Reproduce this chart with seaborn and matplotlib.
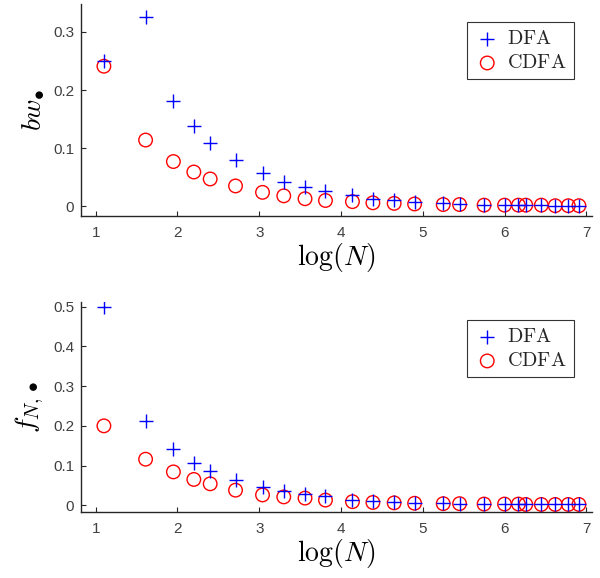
import numpy as np
import pandas as pd
import seaborn as sns
import matplotlib
matplotlib.use("Agg")
import matplotlib.pyplot as plt
from matplotlib.ticker import FuncFormatter

# log of the window length N (shared by both panels)
log_n = [1.10, 1.61, 1.95, 2.20, 2.40, 2.71, 3.04, 3.30, 3.56, 3.81, 4.14, 4.39,
         4.65, 4.90, 5.25, 5.45, 5.75, 6.00, 6.17, 6.26, 6.45, 6.62, 6.78, 6.91]

# bandwidth bw
bw_dfa = [0.250, 0.326, 0.182, 0.138, 0.109, 0.079, 0.057, 0.042, 0.033, 0.027, 0.019, 0.013,
          0.010, 0.008, 0.005, 0.004, 0.002, 0.002, 0.002, 0.002, 0.002, 0.001, 0.001, 0.001]
bw_cdfa = [0.241, 0.114, 0.077, 0.059, 0.047, 0.035, 0.024, 0.018, 0.013, 0.010, 0.008, 0.006,
           0.005, 0.004, 0.003, 0.003, 0.002, 0.002, 0.002, 0.002, 0.002, 0.001, 0.001, 0.001]

# frequency f_N
f_dfa = [0.500, 0.213, 0.142, 0.107, 0.086, 0.063, 0.045, 0.036, 0.028, 0.023, 0.013, 0.010,
         0.008, 0.006, 0.005, 0.004, 0.003, 0.003, 0.003, 0.002, 0.002, 0.002, 0.002, 0.002]
f_cdfa = [0.200, 0.116, 0.084, 0.065, 0.054, 0.038, 0.026, 0.021, 0.018, 0.013, 0.009, 0.007,
          0.006, 0.005, 0.004, 0.004, 0.003, 0.003, 0.003, 0.002, 0.002, 0.002, 0.002, 0.002]

top_yticks = [0, 0.1, 0.2, 0.3]
bottom_yticks = [0, 0.1, 0.2, 0.3, 0.4, 0.5]
xticks = [1, 2, 3, 4, 5, 6, 7]

sns.set_theme(style="white")
plt.rcParams["font.family"] = ["Liberation Sans", "DejaVu Sans"]
plt.rcParams["mathtext.fontset"] = "cm"

AX_COLOR = "#262626"
TICK_LABEL_COLOR = "#404040"

fig = plt.figure(figsize=(6.0, 5.78), dpi=100)
ax_top = fig.add_axes([0.135, 0.6263, 0.8517, 0.3667])
ax_bot = fig.add_axes([0.135, 0.1142, 0.8517, 0.3633])


def draw_panel(ax, dfa, cdfa, yticks, ylim, ylabel):
    df = pd.DataFrame({"logN": log_n, "DFA": dfa, "CDFA": cdfa})
    sns.scatterplot(data=df, x="logN", y="DFA", ax=ax, marker="+", s=110,
                    color="blue", linewidth=1.0, label=r"$\mathrm{DFA}$", zorder=3)
    sns.scatterplot(data=df, x="logN", y="CDFA", ax=ax, marker="o", s=95,
                    facecolors="none", edgecolors="red", linewidths=1.0,
                    label=r"$\mathrm{CDFA}$", zorder=2)
    ax.set_xlim(0.82, 7.07)
    ax.set_ylim(*ylim)
    ax.set_xticks(xticks)
    ax.set_yticks(yticks)
    ax.yaxis.set_major_formatter(FuncFormatter(lambda v, p: f"{v:g}"))
    ax.tick_params(axis="both", direction="in", length=3.5, width=0.8,
                   bottom=True, left=True, top=False, right=False,
                   colors=AX_COLOR, labelsize=11, labelcolor=TICK_LABEL_COLOR)
    ax.tick_params(axis="x", pad=7)
    ax.tick_params(axis="y", pad=5)
    for side in ("top", "right"):
        ax.spines[side].set_visible(False)
    for side in ("left", "bottom"):
        ax.spines[side].set_color(AX_COLOR)
        ax.spines[side].set_linewidth(1.0)
    ax.set_xlabel(r"$\log(N)$", fontsize=20, labelpad=1, color="black")
    ax.set_ylabel(ylabel, fontsize=20, labelpad=5, color="black")
    leg = ax.legend(loc="upper right", fontsize=14.5, frameon=True, fancybox=False,
                    borderpad=0.35, handletextpad=0.35, handlelength=1.3,
                    labelspacing=0.25, borderaxespad=0.9)
    leg.get_frame().set_edgecolor("black")
    leg.get_frame().set_linewidth(0.8)


draw_panel(ax_top, bw_dfa, bw_cdfa, top_yticks, (-0.0167, 0.348), r"$bw_{\bullet}$")
draw_panel(ax_bot, f_dfa, f_cdfa, bottom_yticks, (-0.017, 0.512), r"$f_{N,\bullet}$")

fig.savefig("out.png", dpi=100)
